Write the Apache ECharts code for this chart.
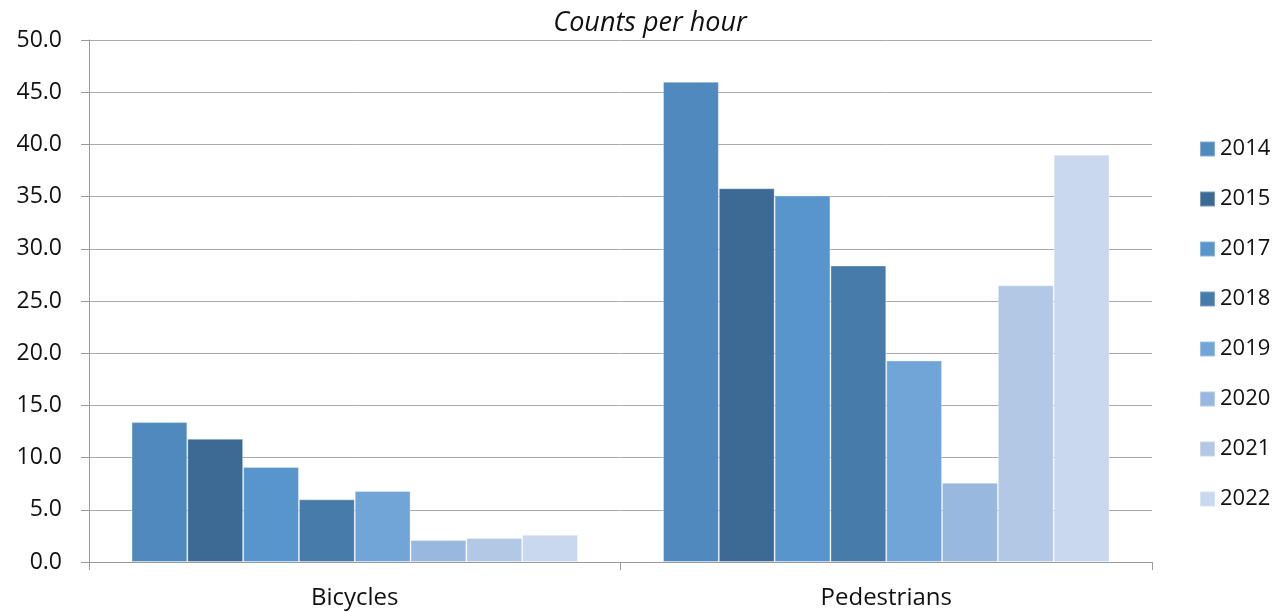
<!DOCTYPE html>
<html>
<head>
<meta charset="utf-8">
<script src="https://cdn.jsdelivr.net/npm/echarts@6/dist/echarts.min.js"></script>
<style>
  html, body {margin: 0; padding: 0; background: #fff;}
  #chart {width: 1283px; height: 612px;}
</style>
</head>
<body>
<div id="chart"></div>
<script>
// categories and values
const categories = ["Bicycles", "Pedestrians"];
const years = ["2014", "2015", "2017", "2018", "2019", "2020", "2021", "2022"];
const colors = ["#4F89BD", "#3D6A94", "#5795CC", "#477BA9", "#72A5D7", "#98B8DF", "#B3C8E4", "#C9D8EE"];
const bicycles = [13.4, 11.8, 9.1, 6.0, 6.8, 2.1, 2.3, 2.6];
const pedestrians = [46.0, 35.8, 35.1, 28.4, 19.3, 7.6, 26.5, 39.0];

const fontFamily = "'Open Sans', sans-serif";

const chart = echarts.init(document.getElementById("chart"));

const series = years.map((year, i) => {
  return {
    name: year,
    type: "bar",
    data: [bicycles[i], pedestrians[i]],
    barGap: "0%",
    barCategoryGap: "16%",
    itemStyle: {color: colors[i], borderColor: "rgba(255,255,255,0.3)", borderWidth: 1},
    emphasis: {disabled: true},
  };
});

const option = {
  animation: false,
  title: {
    text: "Counts per hour",
    left: 645,
    top: 5,
    textAlign: "center",
    textStyle: {fontFamily: fontFamily, fontSize: 27, fontStyle: "italic", fontWeight: "normal", color: "#111"},
  },
  legend: {
    orient: "vertical",
    left: 1194,
    top: 133,
    itemWidth: 15,
    itemHeight: 15,
    itemGap: 28,
    icon: "rect",
    textStyle: {fontFamily: fontFamily, fontSize: 22, color: "#111"},
    data: years,
  },
  grid: {left: 89, right: 131, top: 40, bottom: 50},
  xAxis: {
    type: "category",
    data: categories,
    axisLine: {lineStyle: {color: "#9a9a9a", width: 1}},
    axisTick: {show: true, length: 8, lineStyle: {color: "#9a9a9a"}},
    axisLabel: {fontFamily: fontFamily, fontSize: 24, color: "#111", margin: 24},
  },
  yAxis: {
    type: "value",
    min: 0,
    max: 50,
    interval: 5,
    axisLine: {show: true, lineStyle: {color: "#9a9a9a", width: 1}},
    axisTick: {show: true, length: 8, lineStyle: {color: "#9a9a9a"}},
    splitLine: {lineStyle: {color: "#aaaaaa", width: 1}},
    axisLabel: {
      fontFamily: fontFamily, fontSize: 23, color: "#111", margin: 27,
      formatter: (v) => v.toFixed(1),
    },
  },
  series: series,
};

chart.setOption(option);
</script>
</body>
</html>
